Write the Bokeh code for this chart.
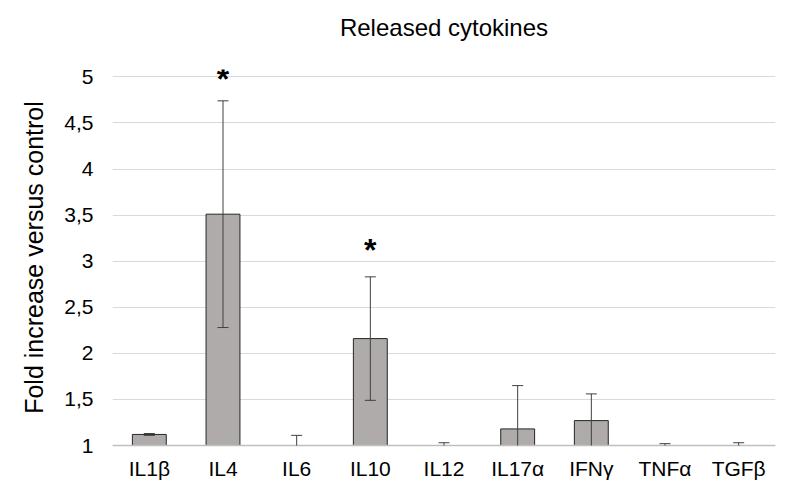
from bokeh.plotting import figure
from bokeh.models import ColumnDataSource, Whisker, TeeHead, FixedTicker, Range1d, Title
from bokeh.core.properties import value
from bokeh.embed import file_html
from bokeh.resources import INLINE

categories = ["IL1β", "IL4", "IL6", "IL10", "IL12", "IL17α", "IFNγ", "TNFα", "TGFβ"]
means = [1.12, 3.51, 1.00, 2.16, 1.00, 1.18, 1.27, 1.00, 1.00]
errors = [0.01, 1.23, 0.11, 0.67, 0.03, 0.47, 0.29, 0.02, 0.03]
sig_categories = ["IL4", "IL10"]
sig_y = [4.98, 3.12]
y_ticks = [1, 1.5, 2, 2.5, 3, 3.5, 4, 4.5, 5]
y_tick_labels = ["1", "1,5", "2", "2,5", "3", "3,5", "4", "4,5", "5"]
title_text = "Released cytokines"

FONT = "Liberation Sans"

src = ColumnDataSource(dict(
    cat=categories,
    mean=means,
    upper=[m + e for m, e in zip(means, errors)],
    lower=[m - e for m, e in zip(means, errors)],
))

p = figure(x_range=categories, y_range=Range1d(1, 5.08), width=800, height=500,
           output_backend="svg", toolbar_location=None,
           min_border_left=112, min_border_right=25, min_border_top=69, min_border_bottom=55)

p.vbar(x="cat", top="mean", bottom=1, width=0.46, source=src,
       fill_color="#AEABAA", line_color="#262626", line_width=1)

w = Whisker(base="cat", upper="upper", lower="lower", source=src,
            line_color="#404040", line_width=1, level="overlay",
            upper_head=TeeHead(size=11, line_color="#404040", line_width=1),
            lower_head=TeeHead(size=11, line_color="#404040", line_width=1))
p.add_layout(w)

p.text(x=sig_categories, y=sig_y, text=["*", "*"], text_font=value(FONT),
       text_font_size="32px", text_font_style="bold", text_align="center",
       text_baseline="middle", text_color="#000000")

spacer = Title(text=" ", text_font_size="24px", standoff=0)
p.add_layout(spacer, "above")
main_title = Title(text=title_text, align="center", text_font=FONT,
                   text_font_size="24px", text_font_style="normal",
                   text_color="#000000", standoff=0)
p.add_layout(main_title, "above")

p.yaxis.ticker = FixedTicker(ticks=y_ticks)
p.yaxis.major_label_overrides = {t: l for t, l in zip(y_ticks, y_tick_labels)}
p.yaxis.axis_label = "Fold increase versus control"
p.yaxis.axis_label_text_font = FONT
p.yaxis.axis_label_text_font_size = "25px"
p.yaxis.axis_label_text_font_style = "normal"
p.yaxis.axis_label_text_color = "#000000"
p.yaxis.axis_label_standoff = 13
p.yaxis.major_label_text_font = FONT
p.yaxis.major_label_text_font_size = "21px"
p.yaxis.major_label_text_color = "#000000"
p.yaxis.major_label_standoff = 13
p.yaxis.axis_line_color = None
p.yaxis.major_tick_line_color = None
p.yaxis.minor_tick_line_color = None

p.xaxis.major_label_text_font = FONT
p.xaxis.major_label_text_font_size = "21px"
p.xaxis.major_label_text_color = "#000000"
p.xaxis.major_label_standoff = 5
p.xaxis.axis_line_color = "#BFBFBF"
p.xaxis.axis_line_width = 1.5
p.xaxis.major_tick_line_color = None
p.xaxis.minor_tick_line_color = None

p.xgrid.grid_line_color = None
p.ygrid.grid_line_color = "#D9D9D9"
p.ygrid.grid_line_width = 1
p.outline_line_color = None
p.x_range.range_padding = 0.0

open("out.html", "w").write(file_html(p, INLINE))
